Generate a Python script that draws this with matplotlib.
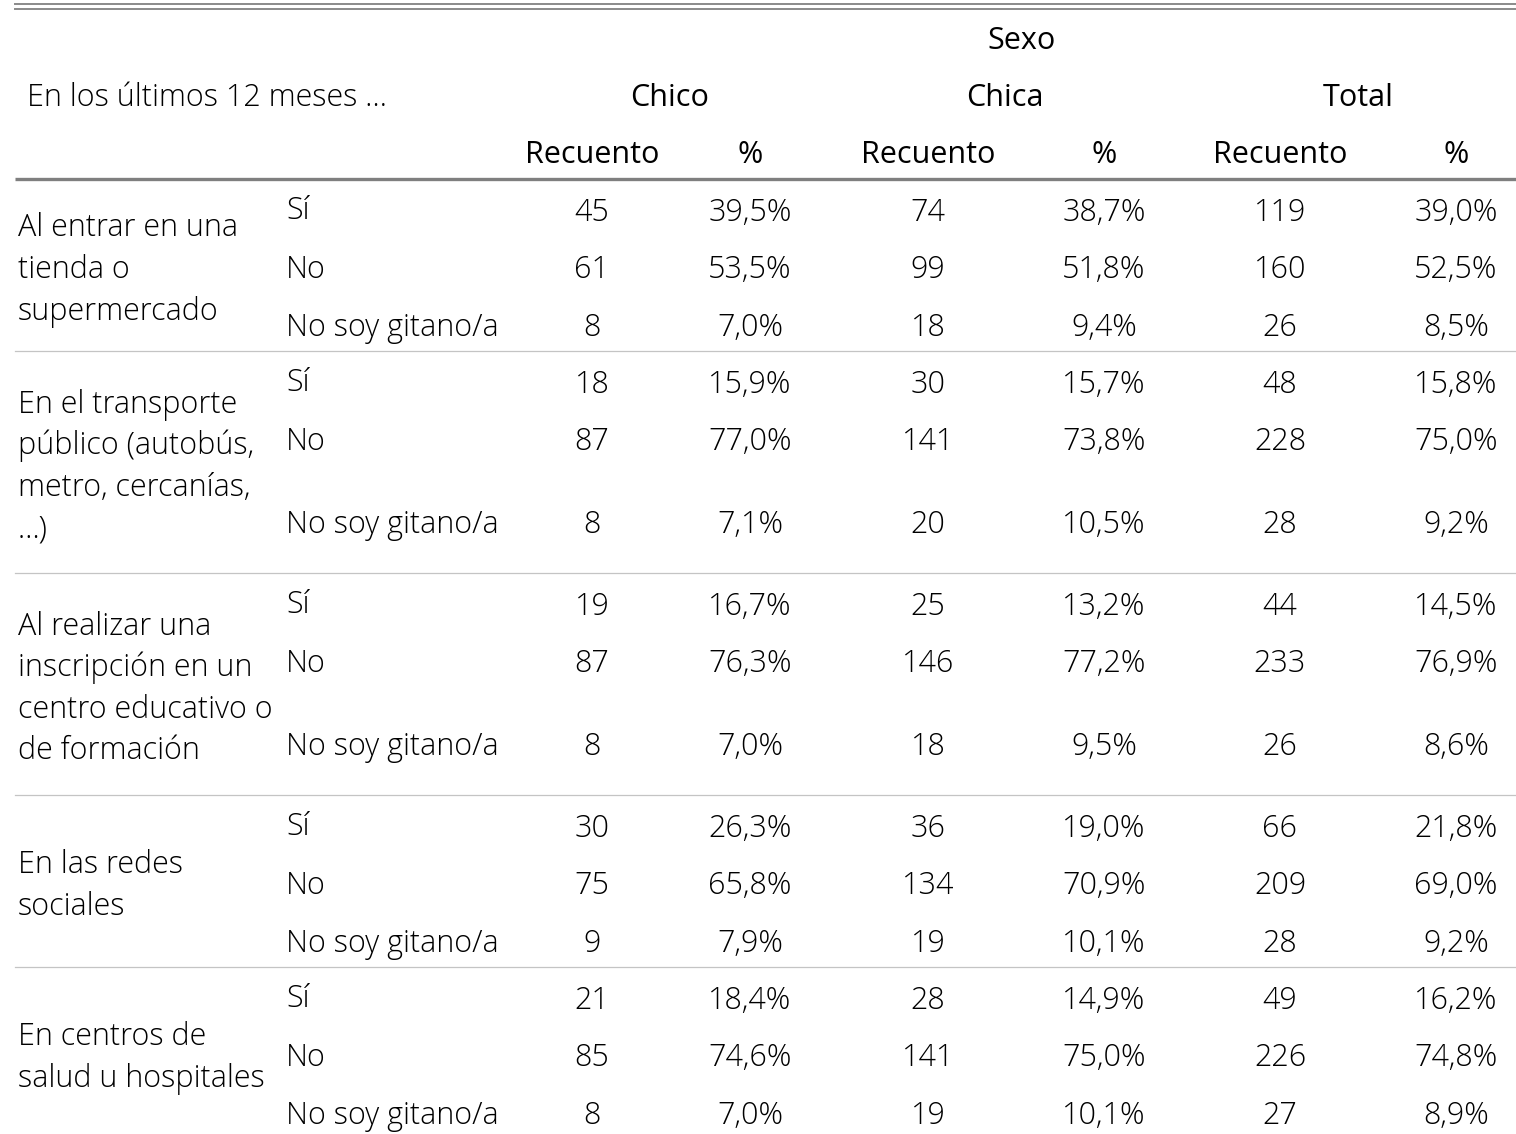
import matplotlib.pyplot as plt

# datos de la tabla
grupos = [
    ["Al entrar en una", "tienda o", "supermercado"],
    ["En el transporte", "público (autobús,", "metro, cercanías,", "…)"],
    ["Al realizar una", "inscripción en un", "centro educativo o", "de formación"],
    ["En las redes", "sociales"],
    ["En centros de", "salud u hospitales"],
]
respuestas = ["Sí", "No", "No soy gitano/a"]

chico_n = [[45, 61, 8], [18, 87, 8], [19, 87, 8], [30, 75, 9], [21, 85, 8]]
chico_pct = [[39.5, 53.5, 7.0], [15.9, 77.0, 7.1], [16.7, 76.3, 7.0], [26.3, 65.8, 7.9], [18.4, 74.6, 7.0]]
chica_n = [[74, 99, 18], [30, 141, 20], [25, 146, 18], [36, 134, 19], [28, 141, 19]]
chica_pct = [[38.7, 51.8, 9.4], [15.7, 73.8, 10.5], [13.2, 77.2, 9.5], [19.0, 70.9, 10.1], [14.9, 75.0, 10.1]]
total_n = [[119, 160, 26], [48, 228, 28], [44, 233, 26], [66, 209, 28], [49, 226, 27]]
total_pct = [[39.0, 52.5, 8.5], [15.8, 75.0, 9.2], [14.5, 76.9, 8.6], [21.8, 69.0, 9.2], [16.2, 74.8, 8.9]]

titulo = "En los últimos 12 meses …"
sexos = ["Chico", "Chica", "Total"]
subcols = ["Recuento", "%"]

W, H = 1516, 1134
fam = "Open Sans"
fs = 22
col = "#000000"

fig = plt.figure(figsize=(W / 100, H / 100), dpi=100)
ax = fig.add_axes([0, 0, 1, 1])
ax.set_xlim(0, W)
ax.set_ylim(H, 0)
ax.axis("off")

def txt(x, y, s, ha="center", w="light"):
    ax.text(x, y + 11, s, ha=ha, va="baseline", fontsize=fs, family=fam,
            fontweight=w, color=col)

def pct(v):
    return ("%.1f%%" % v).replace(".", ",")

# posiciones de columnas
x_grupo, x_resp = 18, 286
x_cols = [592, 750, 928, 1104, 1280, 1456]
x_sexo = [670, 1005, 1358]

# cabecera
ax.plot([15, W], [4, 4], color="#8a8a8a", lw=1.4)
ax.plot([15, W], [8.5, 8.5], color="#8a8a8a", lw=1.4)
txt(1022, 38, "Sexo", w="normal")
txt(27, 95, titulo, ha="left")
for xs, s in zip(x_sexo, sexos):
    txt(xs, 95, s, w="normal")
for i, xc in enumerate(x_cols):
    txt(xc, 152, subcols[i % 2], w="normal")
ax.plot([15, W], [179, 179], color="#7f7f7f", lw=2.4, solid_capstyle="butt")

# cuerpo
top = 179
for g, lineas in enumerate(grupos):
    extra = 50 if len(lineas) > 3 else 0
    alto = 172 + extra
    ys = [top + 31, top + 88.5, top + 146 + extra / 2]
    centro = top + alto / 2 + 2
    for k, s in enumerate(lineas):
        txt(x_grupo, centro + (k - (len(lineas) - 1) / 2) * 41.5, s, ha="left")
    for r in range(3):
        y = ys[r]
        txt(x_resp, y - (2 if r == 0 else 0), respuestas[r], ha="left")
        vals = [str(chico_n[g][r]), pct(chico_pct[g][r]),
                str(chica_n[g][r]), pct(chica_pct[g][r]),
                str(total_n[g][r]), pct(total_pct[g][r])]
        for xc, v in zip(x_cols, vals):
            txt(xc, y, v)
    top += alto
    if g < len(grupos) - 1:
        ax.plot([15, W], [top, top], color="#c4c4c4", lw=0.9)

fig.savefig("out.png", dpi=100)
